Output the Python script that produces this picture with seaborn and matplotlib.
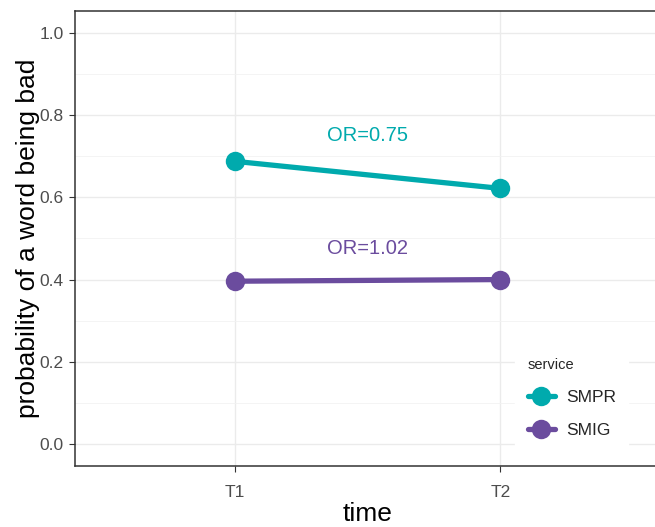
import matplotlib
matplotlib.use("Agg")
import matplotlib.pyplot as plt
import numpy as np
import pandas as pd
import seaborn as sns

times = ["T1", "T2"]
services = ["SMPR", "SMIG"]
smpr_prob = [0.688, 0.622]
smig_prob = [0.396, 0.400]
odds_ratios = ["OR=0.75", "OR=1.02"]
label_y = [0.751, 0.476]

palette = {"SMPR": "#00AAAD", "SMIG": "#6B4C9E"}

df = pd.DataFrame({
    "time": times * 2,
    "service": ["SMPR"] * 2 + ["SMIG"] * 2,
    "prob": smpr_prob + smig_prob,
})

sns.set_theme(style="white")
plt.rcParams['font.family'] = ['Liberation Sans', 'DejaVu Sans']

fig = plt.figure(figsize=(6.55, 5.27), dpi=100)
ax = fig.add_axes([75 / 655, 61 / 527, 585 / 655, 455 / 527])

sns.lineplot(data=df, x="time", y="prob", hue="service", hue_order=services,
             palette=palette, marker="o", markersize=14, markeredgewidth=0,
             linewidth=3.8, ax=ax, zorder=3)

for i, s in enumerate(services):
    ax.text(0.5, label_y[i], odds_ratios[i], color=palette[s], fontsize=14.5,
            ha="center", va="center")

ax.set_xlim(-0.6, 1.6)
ax.set_ylim(-0.054, 1.054)
ax.set_yticks(np.arange(0, 1.01, 0.2))
ax.set_yticks(np.arange(0.1, 1.0, 0.2), minor=True)
ax.set_yticklabels([f"{v:.1f}" for v in np.arange(0, 1.01, 0.2)])
ax.grid(True, which="major", color="#EBEBEB", linewidth=1.0, zorder=0)
ax.grid(True, which="minor", axis="y", color="#F2F2F2", linewidth=0.6, zorder=0)
ax.set_axisbelow(True)

ax.tick_params(axis="both", which="major", length=4, width=0.8, color="#333333",
               labelsize=12.5, labelcolor="#4D4D4D", left=True, bottom=True, pad=4)
ax.tick_params(axis="x", which="major", pad=10)
ax.tick_params(axis="y", which="minor", length=0)
for sp in ax.spines.values():
    sp.set_color("#333333")
    sp.set_linewidth(1.1)

ax.set_xlabel("time", fontsize=19, color="black", labelpad=1)
ax.set_ylabel("probability of a word being bad", fontsize=19, color="black", labelpad=0)

leg = ax.legend(title="service", loc="lower right", bbox_to_anchor=(0.96, 0.015),
                frameon=True, fontsize=12.5, title_fontsize=10.5, handlelength=1.6,
                handletextpad=0.6, borderpad=0.7, labelspacing=1.05, markerscale=1.0)
leg.get_frame().set_edgecolor("white")
leg.get_frame().set_facecolor("white")
leg.get_frame().set_alpha(1)
leg._legend_box.align = "left"

fig.savefig("out.png", dpi=100)
